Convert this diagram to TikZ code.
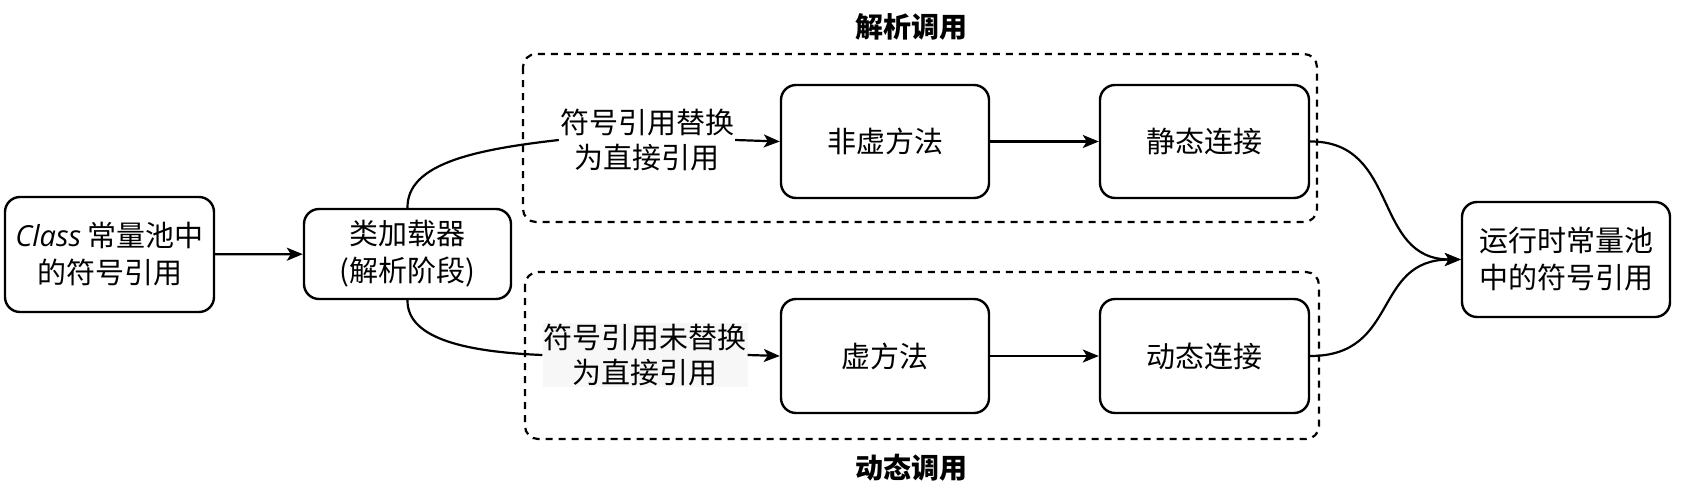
\documentclass[tikz,border=0pt]{standalone}
\usepackage{fontspec}
\setmainfont{Noto Sans CJK SC}
\newfontfamily\clsfont{Open Sans}
\usetikzlibrary{arrows.meta}
\tikzset{
  box/.style={draw=black, line width=2.4pt, rounded corners=15pt, fill=white, align=center,
    font=\fontsize{29}{37}\selectfont, inner sep=0pt},
  grp/.style={draw=black, line width=2.2pt, dash pattern=on 7pt off 6pt, rounded corners=13pt},
  lbl/.style={align=center, font=\fontsize{29}{35}\selectfont, inner sep=1pt},
  ttl/.style={font=\fontsize{28}{34}\selectfont\bfseries},
  conn/.style={line width=2.2pt, -{Stealth[length=16pt,width=13pt,inset=4pt]}},
  plain/.style={line width=2.2pt},
}
\begin{document}
\begin{tikzpicture}[x=1pt,y=-1pt]
\useasboundingbox (0,0) rectangle (1700,482);
% groups
\draw[grp] (523,54) rectangle (1317,222);
\draw[grp] (525,272) rectangle (1319,439);
\node[ttl] (t1) at (911,27) {解析调用};
\node[ttl] (t2) at (911,468) {动态调用};
% boxes
\node[box, minimum width=209pt, minimum height=115pt] (cls) at (109.5,254.5) {{\clsfont\itshape Class} 常量池中\\的符号引用};
\node[box, minimum width=207pt, minimum height=90pt] (ld) at (407.5,254) {类加载器\\(解析阶段)};
\node[box, minimum width=208pt, minimum height=113pt] (nv) at (885,141.5) {非虚方法};
\node[box, minimum width=209pt, minimum height=113pt] (st) at (1204.5,141.5) {静态连接};
\node[box, minimum width=208pt, minimum height=114pt] (vm) at (885,356) {虚方法};
\node[box, minimum width=209pt, minimum height=114pt] (dy) at (1204.5,356) {动态连接};
\node[box, minimum width=208pt, minimum height=115pt] (rt) at (1566,259.5) {运行时常量池\\中的符号引用};
% labels
\node[lbl] (l1) at (647,140) {符号引用替换\\为直接引用};
\node[lbl, fill=black!3] (l2) at (645,355) {符号引用未替换\\为直接引用};
% connectors
\draw[conn] (cls) -- (ld);
\draw[plain] (ld.north) .. controls (407,165) and (470,150) .. (l1.west);
\draw[plain] (ld.south) .. controls (407,340) and (470,352) .. (l2.west);
\draw[conn] (l1.east) -- (nv.west);
\draw[conn] (l2.east) -- (vm.west);
\draw[conn] (nv) -- (st);
\draw[conn] (vm) -- (dy);
\draw[conn] (st.east) .. controls (1400,141) and (1372,259.5) .. (rt.west);
\draw[conn] (dy.east) .. controls (1400,356) and (1372,259.5) .. (rt.west);
\end{tikzpicture}
\end{document}
